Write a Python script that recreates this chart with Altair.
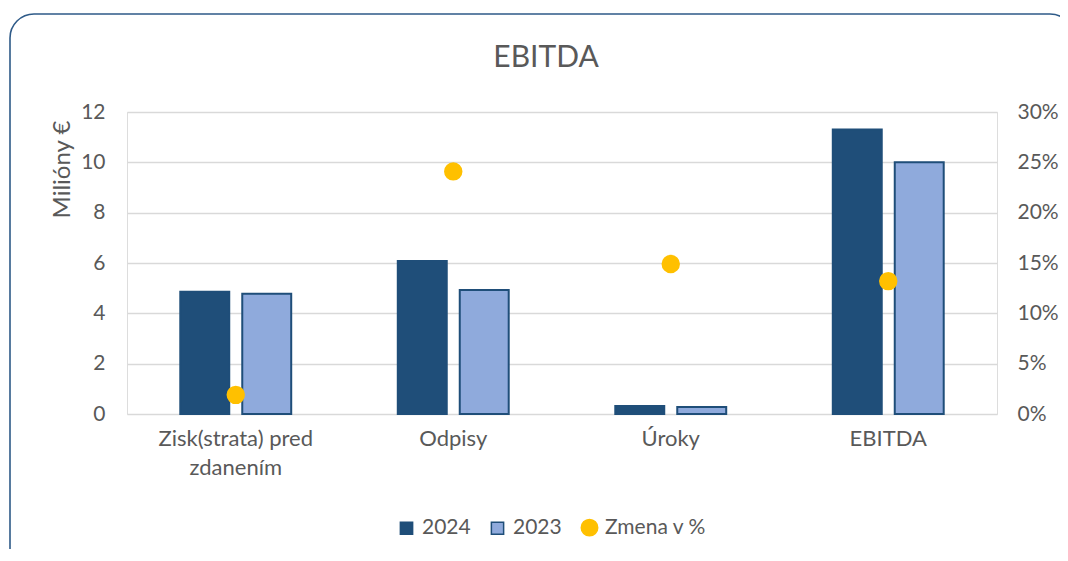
import altair as alt
import pandas as pd

categories = ["Zisk(strata) pred zdanením", "Odpisy", "Úroky", "EBITDA"]
v2024 = [4.86, 6.08, 0.32, 11.3]
v2023 = [4.78, 4.93, 0.28, 10.0]
pct = [0.019, 0.241, 0.149, 0.132]
series = ["2024", "2023", "Zmena v %"]
chart_title = "EBITDA"

rows = []
for c, a, b, p in zip(categories, v2024, v2023, pct):
    rows.append({"cat": c, "series": "2024", "value": a})
    rows.append({"cat": c, "series": "2023", "value": b})
    rows.append({"cat": c, "series": "Zmena v %", "value": p})
df = pd.DataFrame(rows)

FONT = "Lato"
GRAY = "#595959"
DARK = "#1F4E79"
LIGHT = "#8FAADC"
GOLD = "#FFC000"

color_scale = alt.Scale(domain=series, range=[DARK, LIGHT, GOLD])
stroke_scale = alt.Scale(domain=series, range=[DARK, DARK, GOLD])
shape_scale = alt.Scale(domain=series, range=["square", "square", "circle"])
size_scale = alt.Scale(type="ordinal", domain=series, range=[150, 150, 270])

legend = alt.Legend(
    title=None, orient="none", direction="horizontal", legendX=269, legendY=405,
    labelFont=FONT, labelFontSize=21, labelColor=GRAY,
    symbolStrokeWidth=1.5, columnPadding=16, labelOffset=5,
)

x_enc = alt.X(
    "cat:N", sort=categories, title=None,
    scale=alt.Scale(paddingInner=0.49, paddingOuter=0.245),
    axis=alt.Axis(
        labelFont=FONT, labelFontSize=22, labelColor=GRAY, labelAngle=0,
        labelPadding=14, labelLineHeight=29, domain=False, ticks=False,
        labelExpr="datum.label == 'Zisk(strata) pred zdanením' ? ['Zisk(strata) pred', 'zdanením'] : datum.label",
    ),
)

base = alt.Chart(df)

border = alt.Chart(alt.Data(values=[{}])).mark_rect(
    fill=None, stroke="#2E5A88", strokeWidth=1.6, cornerRadius=24
).encode(
    x=alt.value(-117), x2=alt.value(947), y=alt.value(-98), y2=alt.value(460)
)

title_layer = alt.Chart(alt.Data(values=[{"t": chart_title}])).mark_text(
    font=FONT, fontSize=30, color=GRAY, align="center", baseline="alphabetic"
).encode(
    text="t:N", x=alt.value(419), y=alt.value(-45)
)

bars = base.transform_filter(
    alt.FieldOneOfPredicate(field="series", oneOf=["2024", "2023"])
).mark_bar(strokeWidth=2).encode(
    x=x_enc,
    xOffset=alt.XOffset("series:N", sort=["2024", "2023"], scale=alt.Scale(paddingInner=0.21)),
    y=alt.Y(
        "value:Q", title="Milióny €",
        scale=alt.Scale(domain=[0, 12]),
        axis=alt.Axis(
            orient="left", values=[0, 2, 4, 6, 8, 10, 12], labelFont=FONT, labelFontSize=21,
            labelColor=GRAY, labelPadding=22, domain=False, ticks=False,
            gridColor="#D9D9D9", gridWidth=1.3,
            titleFont=FONT, titleFontSize=24, titleColor=GRAY, titleFontWeight="normal",
            titleAngle=-90, titleX=-65, titleY=57, titleAlign="center", titleBaseline="middle",
        ),
    ),
    color=alt.Color("series:N", scale=color_scale, legend=legend),
    stroke=alt.Stroke("series:N", scale=stroke_scale, legend=legend),
)

points = base.transform_filter(
    alt.FieldEqualPredicate(field="series", equal="Zmena v %")
).mark_point(filled=True, opacity=1).encode(
    x=x_enc,
    y=alt.Y(
        "value:Q", title=None,
        scale=alt.Scale(domain=[0, 0.3]),
        axis=alt.Axis(
            orient="right", format=".0%", values=[0, 0.05, 0.1, 0.15, 0.2, 0.25, 0.3],
            labelFont=FONT, labelFontSize=21, labelColor=GRAY, labelPadding=20,
            domain=False, ticks=False, grid=False,
        ),
    ),
    color=alt.Color("series:N", scale=color_scale, legend=legend),
    stroke=alt.Stroke("series:N", scale=stroke_scale, legend=legend),
    shape=alt.Shape("series:N", scale=shape_scale, legend=legend),
    size=alt.Size("series:N", scale=size_scale, legend=legend),
)

chart = alt.layer(border, title_layer, bars, points).resolve_scale(y="independent").properties(
    width=870, height=302,
    autosize=alt.AutoSizeParams(type="none"),
    padding={"left": 119, "top": 104, "right": 63, "bottom": 135},
).configure_view(stroke=None).configure(background="white")

chart.save("out.html", embed_options={"renderer": "svg", "actions": False})
